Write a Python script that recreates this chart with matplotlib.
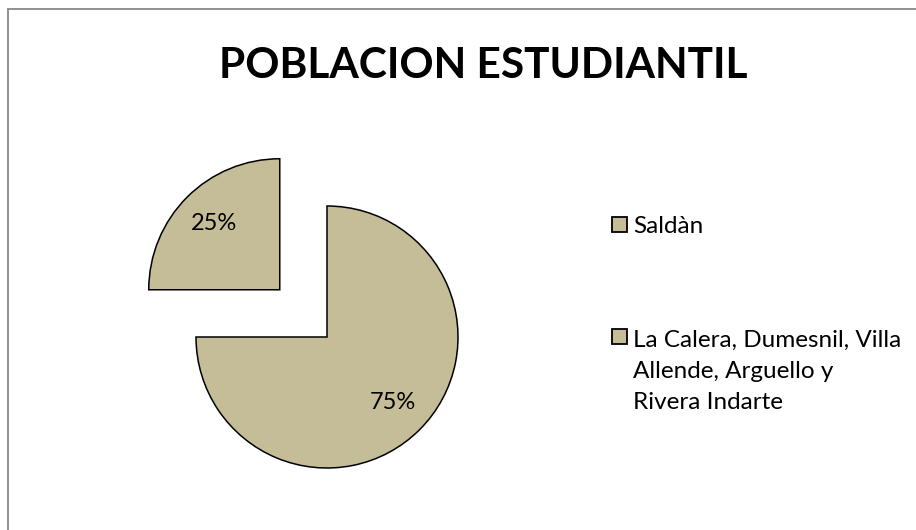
import matplotlib
matplotlib.use("Agg")
import matplotlib.pyplot as plt
from matplotlib.patches import Rectangle

# Data
title = "POBLACION ESTUDIANTIL"
labels = ["Saldàn", "La Calera, Dumesnil, Villa\nAllende, Arguello y\nRivera Indarte"]
values = [25, 75]
explode_frac = [0.51, 0.0]
color = "#C4BD97"

W, H = 916, 530
R = 131
fig = plt.figure(figsize=(W / 100, H / 100), dpi=100)
ax = fig.add_axes([0, 0, 1, 1])

FONT = "Lato"

wedges, texts, autotexts = ax.pie(
    values,
    explode=[e * R for e in explode_frac],
    colors=[color] * len(values),
    startangle=90,
    counterclock=True,
    radius=R,
    center=(327, H - 337),
    autopct="%1.0f%%",
    pctdistance=0.71,
    frame=True,
    wedgeprops=dict(edgecolor="black", linewidth=1.1),
    textprops=dict(fontsize=17, family=FONT, color="black"),
)
ax.set_xlim(0, W)
ax.set_ylim(0, H)
ax.set_aspect("equal")
ax.axis("off")

# Border
ax.add_patch(Rectangle((8, -20), 980, H - 9 + 20, fill=False,
                       edgecolor="#888888", linewidth=1.3, clip_on=False))

# Title
ax.text(483, H - 78, title, ha="center", va="baseline",
        fontsize=30.5, fontweight="bold", family=FONT)

# Legend (manual, handle aligned to first line)
leg_x_box = 612
leg_x_text = 633
first_baselines = [233, 345]
line_h = 32
sq = 15
for lab, base in zip(labels, first_baselines):
    nlines = lab.count("\n")
    ax.add_patch(Rectangle((leg_x_box, H - base + 1), sq, sq, facecolor=color,
                           edgecolor="black", linewidth=1.3))
    ax.text(leg_x_text, H - (base + nlines * line_h), lab, ha="left", va="baseline",
            fontsize=17.5, family=FONT, linespacing=1.6)

fig.savefig("out.png", dpi=100)
